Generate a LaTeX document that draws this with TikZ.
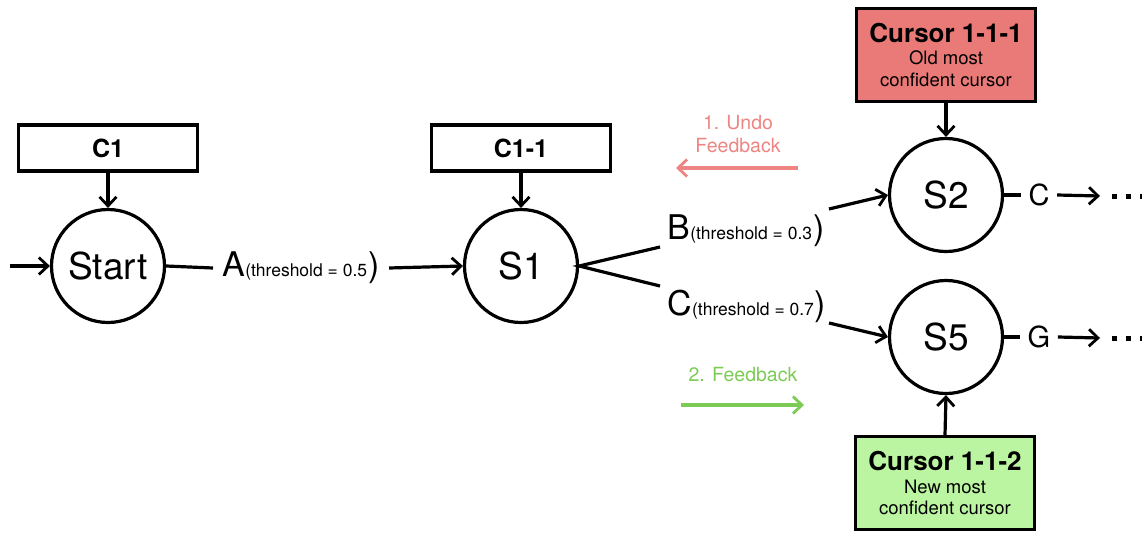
\documentclass[tikz,border=0pt]{standalone}
\usepackage{fontspec}
\setmainfont{TeX Gyre Heros}
\usetikzlibrary{arrows.meta}
\definecolor{redfill}{HTML}{E97A78}
\definecolor{redtxt}{HTML}{EE8582}
\definecolor{greenfill}{HTML}{BCF5A2}
\definecolor{greentxt}{HTML}{7CCB55}
\newcommand{\fs}[1]{\fontsize{#1}{1.15\dimexpr#1pt\relax}\selectfont}
\begin{document}
\begin{tikzpicture}[x=1pt,y=-1pt,line width=3.2pt,
  >={Straight Barb[length=9pt,width=17pt,line width=2.8pt]},
  state/.style={circle,draw,minimum size=113pt,inner sep=0pt,font=\fs{37}},
  cbox/.style={draw,minimum width=179pt,minimum height=46pt,inner sep=0pt,font=\bfseries\fs{25}},
  curbox/.style={draw,minimum width=179pt,minimum height=93pt,inner sep=0pt,align=center,font=\fs{18.5}},
  lbl/.style={inner sep=0pt,font=\fs{34}},
  fb/.style={inner sep=0pt,align=center,font=\fs{19.5}}]
\useasboundingbox (0,0) rectangle (1142,533);

% main row
\node[state] (start) at (108,266) {Start};
\node[state] (s1) at (521,266) {S1};
\node[state] (s2) at (946,195) {S2};
\node[state] (s5) at (946,337) {S5};

\node[cbox] (c1) at (108,148) {C1};
\node[cbox] (c11) at (521,148) {C1-1};

\node[curbox,fill=redfill] (cur1) at (946,55)
  {{\bfseries\fs{26}Cursor 1-1-1}\\[1pt]Old most\\confident cursor};
\node[curbox,fill=greenfill] (cur2) at (945,483)
  {{\bfseries\fs{26}Cursor 1-1-2}\\[1pt]New most\\confident cursor};

\coordinate (in) at (10,266);
\draw[->] (in) -- (start.west);
\draw[->] (c1.south) -- (start.north);
\draw[->] (c11.south) -- (s1.north);
\draw[->] (cur1.south) -- (s2.north);
\draw[->] (cur2.north) -- (s5.south);

% label A
\node[lbl,anchor=west] (la) at (221,268) {A{\fs{17.5}(threshold = 0.5}\hspace{1pt})};
\draw (start.east) -- ([xshift=-8pt]la.west);
\draw[->] ([xshift=8pt]la.east) -- (s1.west);

% branches
\node[lbl,anchor=west] (lb) at (666,231) {B{\fs{17.5}(threshold = 0.3}\hspace{1pt})};
\node[lbl,anchor=west] (lc) at (666,306) {C{\fs{17.5}(threshold = 0.7}\hspace{1pt})};
\coordinate (bs) at (660,247);
\coordinate (cs) at (660,286);
\draw (bs) -- (s1.east) -- (cs);
\coordinate (bo) at (829,209);
\coordinate (co) at (829,323);
\draw[->] (bo) -- (s2.west);
\draw[->] (co) -- (s5.west);

% outgoing
\node[lbl,font=\fs{29}] (oc) at (1039,195) {C};
\node[lbl,font=\fs{29}] (og) at (1039,337) {G};
\node[inner sep=0pt,anchor=west] (d1) at (1110,196) {\rule{5pt}{5pt}\hspace{9pt}\rule{5pt}{5pt}\hspace{9pt}\rule{5pt}{5pt}};
\node[inner sep=0pt,anchor=west] (d2) at (1110,338) {\rule{5pt}{5pt}\hspace{9pt}\rule{5pt}{5pt}\hspace{9pt}\rule{5pt}{5pt}};
\draw (s2.east) -- ([xshift=-6pt]oc.west);
\draw (s5.east) -- ([xshift=-6pt]og.west);
\draw[->] ([xshift=6pt]oc.east) -- ([xshift=-10pt]d1.west);
\draw[->] ([xshift=6pt]og.east) -- ([xshift=-10pt]d2.west);

% feedback
\node[fb,text=redtxt] (undo) at (738,134) {1. Undo\\Feedback};
\coordinate (ua) at (798,168);
\coordinate (ub) at (676,168);
\draw[->,redtxt] (ua) -- (ub);
\node[fb,text=greentxt] (fbk) at (743,375) {2. Feedback};
\coordinate (ga) at (681,405);
\coordinate (gb) at (804,405);
\draw[->,greentxt] (ga) -- (gb);
\end{tikzpicture}
\end{document}
